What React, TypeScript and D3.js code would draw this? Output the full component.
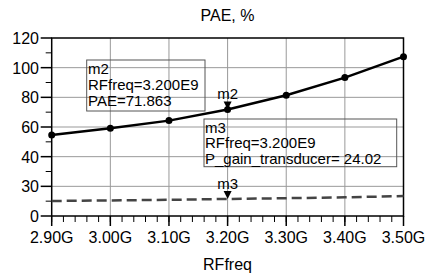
import React from "react";
import * as d3 from "d3";

const freqs = [2.9, 3.0, 3.1, 3.2, 3.3, 3.4, 3.5];
const pae = [54.6, 59.1, 64.3, 71.863, 81.4, 93.3, 107.4];
// gain trace as drawn against the left axis
const gainPlot = [10.1, 10.5, 10.9, 11.5, 12.0, 12.6, 13.4];
const xTicks = [2.9, 3.0, 3.1, 3.2, 3.3, 3.4, 3.5];
const xTickLabels = ["2.90G", "3.00G", "3.10G", "3.20G", "3.30G", "3.40G", "3.50G"];
const yTicks = [0, 20, 40, 60, 80, 100, 120];
const yTickLabels = ["0", "30", "40", "60", "80", "100", "120"];
const m2Lines = ["m2", "RFfreq=3.200E9", "PAE=71.863"];
const m3Lines = ["m3", "RFfreq=3.200E9", "P_gain_transducer= 24.02"];
const markerFreq = 3.2;

const W = 428;
const H = 277;
const left = 51.7;
const right = 403.5;
const top = 38;
const bottom = 216;

const App = () => {
  const x = d3.scaleLinear().domain([2.9, 3.5]).range([left, right]);
  const y = d3.scaleLinear().domain([0, 120]).range([bottom, top]);

  const line = d3
    .line<number>()
    .x((d, i) => x(freqs[i]))
    .y((d) => y(d));

  const minorX = d3.range(2.9, 3.5001, 0.02);
  const minorY = d3.range(10, 120, 20);

  const mi = freqs.indexOf(markerFreq);
  const mx = x(markerFreq);
  const m2y = y(pae[mi]);
  const m3y = y(gainPlot[mi]);

  // downward triangle with its tip on the trace
  const tri = (cx: number, cy: number) =>
    `M${cx - 4},${cy - 8}L${cx + 4},${cy - 8}L${cx},${cy}Z`;

  return (
    <svg
      width={W}
      height={H}
      style={{ position: "fixed", left: 0, top: 0, background: "#fff" }}
      fontFamily="Liberation Sans, Arial, sans-serif"
    >
      {/* grid */}
      {xTicks.slice(1, -1).map((t) => (
        <line key={"gx" + t} x1={x(t)} x2={x(t)} y1={top} y2={bottom} stroke="#999" strokeWidth={1} />
      ))}
      {yTicks.slice(1, -1).map((t) => (
        <line key={"gy" + t} x1={left} x2={right} y1={y(t)} y2={y(t)} stroke="#999" strokeWidth={1} />
      ))}

      {/* frame */}
      <rect x={left} y={top} width={right - left} height={bottom - top} fill="none" stroke="#000" strokeWidth={1.5} />

      {/* x ticks */}
      {minorX.map((t, i) => (
        <line key={"mx" + i} x1={x(t)} x2={x(t)} y1={bottom} y2={bottom + 6} stroke="#000" strokeWidth={1} />
      ))}
      {xTicks.map((t, i) => (
        <g key={"xt" + t}>
          <line x1={x(t)} x2={x(t)} y1={bottom} y2={bottom + 10} stroke="#000" strokeWidth={1.5} />
          <text x={x(t)} y={243} textAnchor="middle" fontSize={16}>
            {xTickLabels[i]}
          </text>
        </g>
      ))}

      {/* y ticks */}
      {minorY.map((t) => (
        <line key={"my" + t} x1={left - 6} x2={left} y1={y(t)} y2={y(t)} stroke="#000" strokeWidth={1} />
      ))}
      {yTicks.map((t, i) => (
        <g key={"yt" + t}>
          <line x1={left - 11} x2={left} y1={y(t)} y2={y(t)} stroke="#000" strokeWidth={1.5} />
          <text x={39} y={y(t) + 6} textAnchor="end" fontSize={16}>
            {yTickLabels[i]}
          </text>
        </g>
      ))}

      {/* gain trace */}
      <path d={line(gainPlot) ?? ""} fill="none" stroke="#444" strokeWidth={2.5} strokeDasharray="10,5" />

      {/* PAE trace */}
      <path d={line(pae) ?? ""} fill="none" stroke="#000" strokeWidth={2.5} />
      {pae.map((v, i) => (
        <circle key={"p" + i} cx={x(freqs[i])} cy={y(v)} r={3.5} fill="#000" />
      ))}

      {/* markers */}
      <path d={tri(mx, m2y)} fill="#000" />
      <text x={mx} y={m2y - 10} textAnchor="middle" fontSize={15}>m2</text>
      <path d={tri(mx, m3y)} fill="#000" />
      <text x={mx} y={m3y - 10} textAnchor="middle" fontSize={15}>m3</text>

      {/* marker readouts */}
      <rect x={86.7} y={60} width={118.3} height={51} fill="none" stroke="#555" strokeWidth={1} />
      {m2Lines.map((s, i) => (
        <text key={"m2t" + i} x={88} y={74 + i * 16} fontSize={15}>{s}</text>
      ))}
      <rect x={204} y={119} width={192.7} height={47.7} fill="none" stroke="#555" strokeWidth={1} />
      {m3Lines.map((s, i) => (
        <text key={"m3t" + i} x={205} y={132.5 + i * 15.5} fontSize={15}>{s}</text>
      ))}

      {/* titles */}
      <text x={227.5} y={21} textAnchor="middle" fontSize={16}>PAE, %</text>
      <text x={227.5} y={270} textAnchor="middle" fontSize={16}>RFfreq</text>
    </svg>
  );
};

export default App;
